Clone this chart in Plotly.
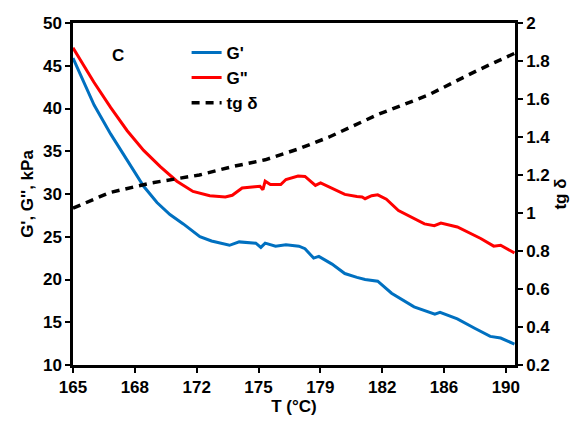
import plotly.graph_objects as go

# G' (storage modulus), kPa
T_g1 = [165.0, 166.22, 167.18, 168.13, 169.08, 169.85, 170.6, 171.37, 172.33, 173.0,
        173.47, 174.04, 174.6, 175.2, 175.56, 175.85, 176.1, 176.7, 177.3, 178.05,
        178.4, 178.9, 179.2, 179.96, 180.7, 181.4, 181.87, 182.6, 183.4, 184.7,
        185.5, 185.9, 186.2, 187.2, 188.2, 189.1, 189.7, 190.5]
G1 = [45.9, 40.4, 37.0, 34.0, 30.9, 29.0, 27.6, 26.5, 25.0, 24.5,
      24.25, 24.0, 24.4, 24.3, 24.25, 23.75, 24.25, 23.9, 24.06, 23.9,
      23.6, 22.5, 22.7, 21.8, 20.7, 20.25, 20.0, 19.8, 18.4, 16.8,
      16.2, 15.95, 16.15, 15.4, 14.3, 13.35, 13.15, 12.45]

# G'' (loss modulus), kPa
T_g2 = [165.0, 166.2, 167.18, 168.13, 169.08, 170.04, 171.0, 171.93, 172.9, 173.8,
        174.2, 174.77, 175.5, 175.8, 175.97, 176.1, 176.4, 177.0, 177.3, 178.0,
        178.4, 179.0, 179.3, 179.96, 180.7, 181.4, 181.7, 181.87, 182.25, 182.6,
        183.1, 183.8, 184.7, 185.3, 185.87, 186.25, 187.2, 188.55, 189.3, 189.7, 190.5]
G2 = [47.1, 43.1, 40.1, 37.4, 35.1, 33.2, 31.5, 30.3, 29.8, 29.65,
      29.85, 30.7, 30.85, 30.9, 30.5, 31.5, 31.1, 31.1, 31.7, 32.1,
      32.05, 31.0, 31.3, 30.7, 29.95, 29.7, 29.65, 29.45, 29.8, 29.9,
      29.4, 28.06, 27.1, 26.5, 26.3, 26.6, 26.15, 24.8, 23.9, 24.0, 23.1]

# tg delta
T_tg = [165.0, 167.1, 169.5, 172.3, 174.2, 176.1, 178.05, 179.8, 182.6, 185.5, 188.35, 190.5]
TG = [1.025, 1.107, 1.158, 1.20, 1.244, 1.28, 1.338, 1.40, 1.518, 1.62, 1.75, 1.84]

# x tick labels (Excel-style truncated labels at equal steps)
x_ticktext = ["165", "168", "172", "175", "179", "182", "186", "190"]
x_tickvals = [165 + i * 25 / 7 for i in range(len(x_ticktext))]

FONT = "Liberation Sans, Arial, sans-serif"
FS = 17

fig = go.Figure()
fig.add_trace(go.Scatter(x=T_g1, y=G1, mode="lines", name="G'",
                         line=dict(color="#0070C0", width=3)))
fig.add_trace(go.Scatter(x=T_g2, y=G2, mode="lines", name='G"',
                         line=dict(color="#FF0000", width=3)))
fig.add_trace(go.Scatter(x=T_tg, y=TG, mode="lines", name="tg δ", yaxis="y2",
                         line=dict(color="black", width=3.5, dash="8px,6px")))

fig.update_layout(
    width=579, height=421,
    margin=dict(l=73, r=61, t=23, b=48),
    paper_bgcolor="white", plot_bgcolor="white",
    font=dict(family=FONT, size=FS, color="black", weight="bold"),
    showlegend=True,
    legend=dict(x=0.257, y=0.965, xanchor="left", yanchor="top",
                bgcolor="rgba(0,0,0,0)", font=dict(size=FS, weight="bold"),
                tracegroupgap=0, itemwidth=30),
    xaxis=dict(range=[165, 190.53], tickvals=x_tickvals, ticktext=x_ticktext,
               showgrid=False, zeroline=False, showline=True, linecolor="black",
               linewidth=2.5, mirror=True, ticks="outside", ticklen=5, tickwidth=2,
               tickcolor="black", tickfont=dict(size=FS),
               title=dict(text="T (°C)", standoff=0, font=dict(size=FS, weight="bold"))),
    yaxis=dict(range=[10, 50], dtick=5, showgrid=False, zeroline=False, showline=True,
               linecolor="black", linewidth=2.5, ticks="outside", ticklen=5, tickwidth=2,
               tickcolor="black", tickfont=dict(size=FS),
               title=dict(text="G', G'', kPa", standoff=5, font=dict(size=FS, weight="bold"))),
    yaxis2=dict(range=[0.2, 2], dtick=0.2, tick0=0.2, overlaying="y", side="right",
                showgrid=False, zeroline=False, showline=True, linecolor="black",
                linewidth=2.5, ticks="outside", ticklen=5, tickwidth=2, tickcolor="black",
                tickfont=dict(size=FS),
                title=dict(text="tg δ", standoff=5, font=dict(size=FS, weight="bold"))),
    annotations=[dict(text="C", x=0.083, y=0.94, xref="paper", yref="paper",
                      showarrow=False, font=dict(size=FS, weight="bold"))],
)

fig.write_html("out.html")
